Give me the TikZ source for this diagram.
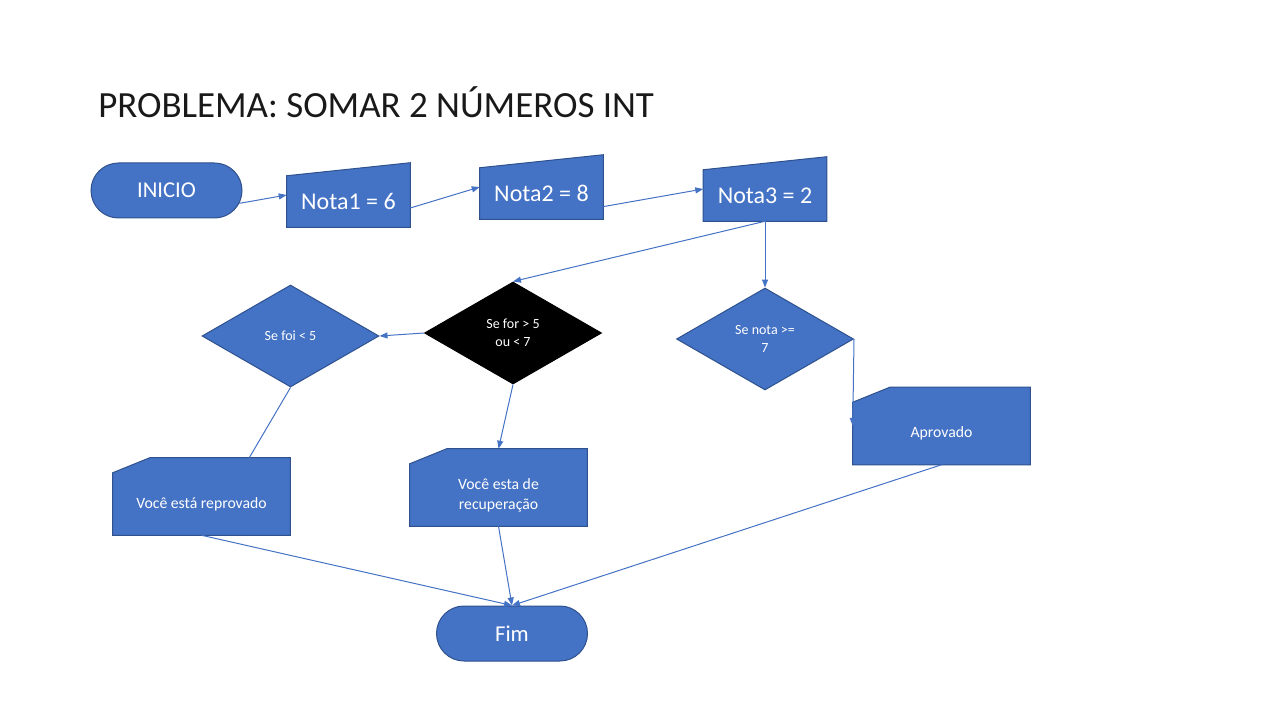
\documentclass[tikz,border=0pt]{standalone}
\usepackage{fontspec}
\setmainfont{Carlito}
\usetikzlibrary{shapes.geometric,shapes.misc,arrows.meta,calc,backgrounds}
\definecolor{azul}{HTML}{4472C4}
\definecolor{borda}{HTML}{2F528F}

\begin{document}
\begin{tikzpicture}[x=0.75pt,y=0.75pt,yscale=-1,xscale=1,
  forma/.style={draw=borda,fill=azul,line width=0.75pt},
  terminal/.style={forma,rounded rectangle,minimum width=113.25pt,minimum height=41.25pt,inner sep=0pt,text=white,font=\fontsize{17}{20}\selectfont},
  entrada/.style={minimum width=92.25pt,minimum height=38.25pt,inner sep=0pt,text=white,font=\fontsize{18}{21}\selectfont},
  decisao/.style={forma,diamond,minimum width=132.75pt,minimum height=76.5pt,inner sep=0pt,text=white,align=center,font=\fontsize{10.5}{13.5}\selectfont},
  cartao/.style={minimum width=132.75pt,minimum height=46.5pt,inner sep=0pt,text=white,align=center,font=\fontsize{11.8}{15}\selectfont},
  seta/.style={draw=azul,line width=0.75pt,-{Triangle[length=6pt,width=4.5pt]}},
  linha/.style={draw=azul,line width=0.75pt}]
\useasboundingbox (0,0) rectangle (1280,720);

% Text Node
\node[anchor=base west,inner sep=0pt,text=black!90,font=\fontsize{27.7}{32}\selectfont] (titulo) at (98,118) {PROBLEMA: SOMAR 2 NÚMEROS INT};

%Shape: Terminal
\node[terminal] (inicio) at (166.5,190.5) {INICIO};
%Shape: Manual Input
\node[entrada] (nota1) at (348.5,201.5) {Nota1 = 6};
\node[entrada] (nota2) at (541.5,193.5) {Nota2 = 8};
\node[entrada] (nota3) at (765,195.5) {Nota3 = 2};
%Shape: Diamond
\node[decisao] (sefoi) at (290.5,336) {Se foi < 5};
\node[decisao,fill=black,draw=black] (sefor) at (513,333) {Se for > 5\\ou < 7};
\node[decisao] (senota) at (765,339) {Se nota >=\\7};
%Shape: Card
\node[cartao] (reprov) at (201.5,504) {Você está reprovado};
\node[cartao] (recup) at (498.5,495) {Você esta de\\recuperação};
\node[cartao] (aprov) at (941.5,433.5) {Aprovado};
%Shape: Terminal
\node[terminal] (fim) at (512,633.5) {Fim};

\begin{scope}[on background layer]
\foreach \n in {nota1,nota2,nota3}
  \draw[forma] (\n.south west) -- (\n.south east) -- ($(\n.north east)+(0,-13)$) -- (\n.north west) -- cycle ;
\foreach \n in {reprov,recup,aprov}
  \draw[forma] (\n.south west) -- (\n.north west) -- ($(\n.north west)+(37,-15)$) -- ($(\n.north east)+(0,-15)$) -- (\n.south east) -- cycle ;
\end{scope}

%Connectors
\draw[seta] (inicio.-10.7) -- (nota1.174.9) ;
\draw[seta] (nota1.-6) -- (nota2.174) ;
\draw[seta] (nota2.-12.4) -- (nota3.174.8) ;
\draw[seta] (nota3.south) -- (sefor.north) ;
\draw[seta] (nota3.south) -- (senota.north) ;
\draw[seta] (sefor.west) -- (sefoi.east) ;
\draw[linha] (sefoi.south) -- ($(reprov.north east)+(-41,-15)$) ;
\draw[seta] (sefor.south) -- ($(recup.north)+(0,-15)$) ;
\draw[seta] (senota.east) -- ($(aprov.west)+(0,-7.5)$) ;
\draw[seta] (reprov.south) -- (fim.north) ;
\draw[seta] (recup.south) -- (fim.north) ;
\draw[seta] (aprov.south) -- (fim.north) ;
\end{tikzpicture}
\end{document}
